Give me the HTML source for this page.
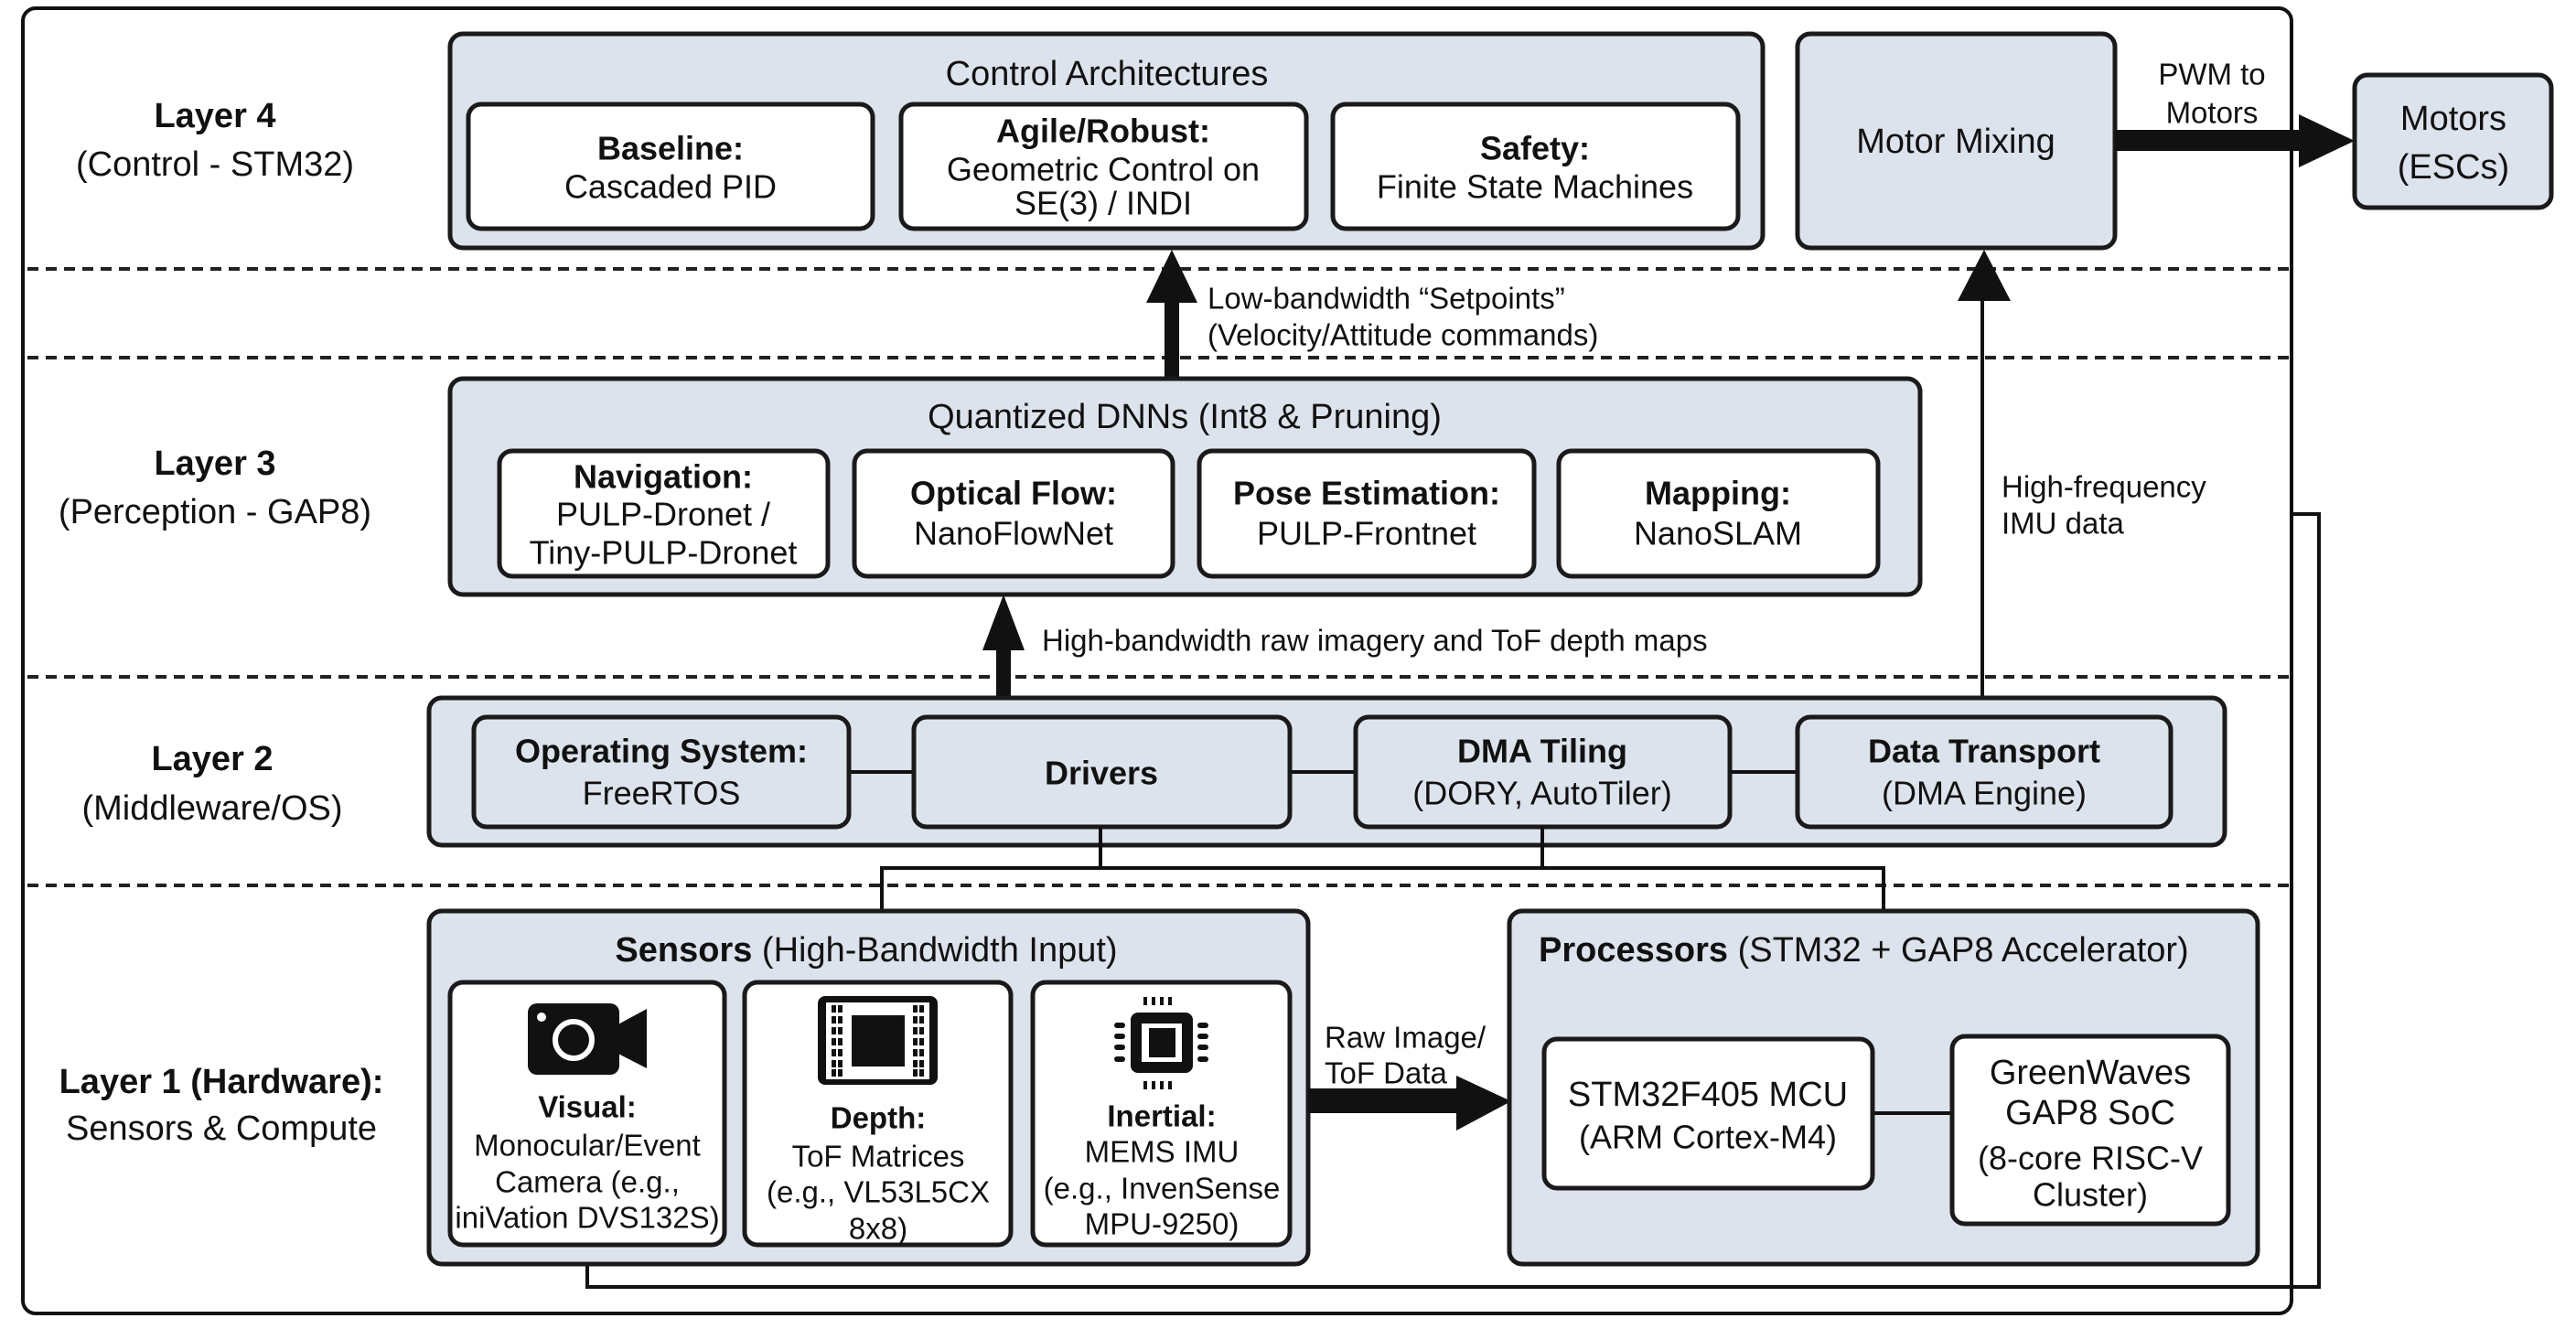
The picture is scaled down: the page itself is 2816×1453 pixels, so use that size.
<!DOCTYPE html>
<html><head><meta charset="utf-8"><style>
html,body{margin:0;padding:0;background:#fff;}
svg{display:block;}
text{font-family:"Liberation Sans",sans-serif;fill:#111;dominant-baseline:central;text-anchor:middle;}
.b{font-weight:bold;}
.t{font-size:36px;}
.s{font-size:33px;}
.L{font-size:38px;}
.box{fill:#dde3ec;stroke:#1a1a1a;stroke-width:5;}
.wb{fill:#fff;stroke:#1a1a1a;stroke-width:5;}
.ln{stroke:#111;stroke-width:4;fill:none;}
.dash{stroke:#222;stroke-width:4;stroke-dasharray:12 8;}
</style></head><body>
<svg width="2816" height="1453" viewBox="0 0 2816 1453" xmlns="http://www.w3.org/2000/svg">
<rect x="0" y="0" width="2816" height="1453" fill="#fff"/>
<!-- outer frame -->
<rect x="25" y="9" width="2480" height="1427" rx="14" fill="none" stroke="#111" stroke-width="4"/>
<!-- dashed separators -->
<line class="dash" x1="30" y1="294" x2="2502" y2="294"/>
<line class="dash" x1="30" y1="391" x2="2502" y2="391"/>
<line class="dash" x1="30" y1="740" x2="2502" y2="740"/>
<line class="dash" x1="30" y1="968" x2="2502" y2="968"/>

<!-- layer labels -->
<text x="235" y="127" class="L b">Layer 4</text>
<text x="235" y="180" class="L">(Control - STM32)</text>
<text x="235" y="507" class="L b">Layer 3</text>
<text x="235" y="560" class="L">(Perception - GAP8)</text>
<text x="232" y="830" class="L b">Layer 2</text>
<text x="232" y="884" class="L">(Middleware/OS)</text>
<text x="242" y="1183" class="L b">Layer 1 (Hardware):</text>
<text x="242" y="1234" class="L">Sensors &amp; Compute</text>

<!-- Layer 4 -->
<rect class="box" x="492" y="37" width="1435" height="234" rx="14"/>
<text x="1210" y="81" class="t" style="font-size:38px">Control Architectures</text>
<rect class="wb" x="512" y="114" width="442" height="136" rx="14"/>
<text x="733" y="162" class="t b">Baseline:</text>
<text x="733" y="204" class="t">Cascaded PID</text>
<rect class="wb" x="985" y="114" width="443" height="136" rx="14"/>
<text x="1206" y="143" class="t b">Agile/Robust:</text>
<text x="1206" y="185" class="t">Geometric Control on</text>
<text x="1206" y="222" class="t">SE(3) / INDI</text>
<rect class="wb" x="1457" y="114" width="443" height="136" rx="14"/>
<text x="1678" y="162" class="t b">Safety:</text>
<text x="1678" y="204" class="t">Finite State Machines</text>

<rect class="box" x="1965" y="37" width="347" height="234" rx="14"/>
<text x="2138" y="155" class="t" style="font-size:38px">Motor Mixing</text>
<rect class="box" x="2574" y="82" width="215" height="145" rx="14"/>
<text x="2682" y="130" class="t" style="font-size:38px">Motors</text>
<text x="2682" y="183" class="t" style="font-size:38px">(ESCs)</text>
<!-- PWM arrow -->
<rect x="2312" y="142" width="205" height="23" fill="#111"/>
<polygon points="2513,125 2574,154 2513,183" fill="#111"/>
<text x="2418" y="81" class="s">PWM to</text>
<text x="2418" y="123" class="s">Motors</text>

<!-- Low-bandwidth arrow -->
<rect x="1273" y="325" width="16" height="90" fill="#111"/>
<polygon points="1253,331 1281,273 1309,331" fill="#111"/>
<text x="1320" y="326" class="s" style="text-anchor:start">Low-bandwidth “Setpoints”</text>
<text x="1320" y="366" class="s" style="text-anchor:start">(Velocity/Attitude commands)</text>

<!-- IMU line to motor mixing -->
<line class="ln" x1="2167" y1="784" x2="2167" y2="325"/>
<polygon points="2140,329 2169,273 2198,329" fill="#111"/>
<text x="2188" y="532" class="s" style="text-anchor:start">High-frequency</text>
<text x="2188" y="572" class="s" style="text-anchor:start">IMU data</text>

<!-- Layer 3 -->
<rect class="box" x="492" y="414" width="1607" height="236" rx="14"/>
<text x="1295" y="456" class="t" style="font-size:38px">Quantized DNNs (Int8 &amp; Pruning)</text>
<rect class="wb" x="546" y="493" width="359" height="137" rx="14"/>
<text x="725" y="521" class="t b">Navigation:</text>
<text x="725" y="562" class="t">PULP-Dronet /</text>
<text x="725" y="604" class="t">Tiny-PULP-Dronet</text>
<rect class="wb" x="934" y="493" width="348" height="137" rx="14"/>
<text x="1108" y="539" class="t b">Optical Flow:</text>
<text x="1108" y="583" class="t">NanoFlowNet</text>
<rect class="wb" x="1311" y="493" width="366" height="137" rx="14"/>
<text x="1494" y="539" class="t b">Pose Estimation:</text>
<text x="1494" y="583" class="t">PULP-Frontnet</text>
<rect class="wb" x="1704" y="493" width="349" height="137" rx="14"/>
<text x="1878" y="539" class="t b">Mapping:</text>
<text x="1878" y="583" class="t">NanoSLAM</text>

<!-- High-bandwidth arrow -->
<rect x="1089" y="705" width="16" height="60" fill="#111"/>
<polygon points="1074,711 1097,650 1120,711" fill="#111"/>
<text x="1139" y="700" class="s" style="text-anchor:start">High-bandwidth raw imagery and ToF depth maps</text>

<!-- Layer 2 -->
<rect class="box" x="469" y="763" width="1963" height="161" rx="14"/>
<line class="ln" x1="928" y1="844" x2="999" y2="844"/>
<line class="ln" x1="1410" y1="844" x2="1482" y2="844"/>
<line class="ln" x1="1891" y1="844" x2="1965" y2="844"/>
<rect class="box" x="518" y="784" width="410" height="120" rx="14"/>
<text x="723" y="821" class="t b">Operating System:</text>
<text x="723" y="867" class="t">FreeRTOS</text>
<rect class="box" x="999" y="784" width="411" height="120" rx="14"/>
<text x="1204" y="845" class="t b">Drivers</text>
<rect class="box" x="1482" y="784" width="409" height="120" rx="14"/>
<text x="1686" y="821" class="t b">DMA Tiling</text>
<text x="1686" y="867" class="t">(DORY, AutoTiler)</text>
<rect class="box" x="1965" y="784" width="408" height="120" rx="14"/>
<text x="2169" y="821" class="t b">Data Transport</text>
<text x="2169" y="867" class="t">(DMA Engine)</text>

<!-- connectors between L2 and L1 -->
<polyline class="ln" points="1203,904 1203,949"/>
<polyline class="ln" points="1686,904 1686,949"/>
<polyline class="ln" points="964,996 964,949 2059,949 2059,996"/>

<!-- bottom feedback line -->
<polyline class="ln" points="642,1361 642,1407 2535,1407 2535,562 2505,562"/>

<!-- Sensors -->
<rect class="box" x="469" y="996" width="961" height="386" rx="14"/>
<text x="947" y="1039" class="t" style="font-size:38px"><tspan font-weight="bold">Sensors</tspan> (High-Bandwidth Input)</text>
<rect class="wb" x="492" y="1074" width="300" height="287" rx="14"/>
<rect class="wb" x="814" y="1074" width="291" height="287" rx="14"/>
<rect class="wb" x="1129" y="1074" width="281" height="287" rx="14"/>
<!-- camera icon -->
<rect x="577" y="1097" width="100" height="78" rx="10" fill="#111"/>
<polygon points="672,1122 707,1103 707,1168 672,1150" fill="#111"/>
<circle cx="627" cy="1137" r="20" fill="none" stroke="#fff" stroke-width="6"/>
<circle cx="592" cy="1112" r="5" fill="#fff"/>
<!-- depth icon -->
<rect x="894" y="1089" width="131" height="97" rx="8" fill="#111"/>
<rect x="903" y="1096" width="113" height="84" fill="#fff"/>
<rect x="931" y="1110" width="58" height="56" fill="#111"/>
<g fill="#111">
<rect x="909" y="1099" width="5" height="8"/><rect x="916" y="1099" width="5" height="8"/>
<rect x="909" y="1111" width="5" height="8"/><rect x="916" y="1111" width="5" height="8"/>
<rect x="909" y="1123" width="5" height="8"/><rect x="916" y="1123" width="5" height="8"/>
<rect x="909" y="1135" width="5" height="8"/><rect x="916" y="1135" width="5" height="8"/>
<rect x="909" y="1147" width="5" height="8"/><rect x="916" y="1147" width="5" height="8"/>
<rect x="909" y="1159" width="5" height="8"/><rect x="916" y="1159" width="5" height="8"/>
<rect x="909" y="1169" width="5" height="8"/><rect x="916" y="1169" width="5" height="8"/>
<rect x="998" y="1099" width="5" height="8"/><rect x="1005" y="1099" width="5" height="8"/>
<rect x="998" y="1111" width="5" height="8"/><rect x="1005" y="1111" width="5" height="8"/>
<rect x="998" y="1123" width="5" height="8"/><rect x="1005" y="1123" width="5" height="8"/>
<rect x="998" y="1135" width="5" height="8"/><rect x="1005" y="1135" width="5" height="8"/>
<rect x="998" y="1147" width="5" height="8"/><rect x="1005" y="1147" width="5" height="8"/>
<rect x="998" y="1159" width="5" height="8"/><rect x="1005" y="1159" width="5" height="8"/>
<rect x="998" y="1169" width="5" height="8"/><rect x="1005" y="1169" width="5" height="8"/>
</g>
<!-- chip icon -->
<rect x="1236" y="1107" width="68" height="66" rx="8" fill="#111"/>
<rect x="1248" y="1119" width="44" height="42" fill="#fff"/>
<rect x="1256" y="1124" width="29" height="32" fill="#111"/>
<g fill="#111">
<rect x="1250" y="1090" width="4" height="9"/><rect x="1259" y="1090" width="4" height="9"/><rect x="1268" y="1090" width="4" height="9"/><rect x="1277" y="1090" width="4" height="9"/>
<rect x="1250" y="1182" width="4" height="9"/><rect x="1259" y="1182" width="4" height="9"/><rect x="1268" y="1182" width="4" height="9"/><rect x="1277" y="1182" width="4" height="9"/>
<rect x="1218" y="1118" width="12" height="6" rx="3"/><rect x="1218" y="1130" width="12" height="6" rx="3"/><rect x="1218" y="1142" width="12" height="6" rx="3"/><rect x="1218" y="1155" width="12" height="6" rx="3"/>
<rect x="1309" y="1118" width="12" height="6" rx="3"/><rect x="1309" y="1130" width="12" height="6" rx="3"/><rect x="1309" y="1142" width="12" height="6" rx="3"/><rect x="1309" y="1155" width="12" height="6" rx="3"/>
</g>
<text x="642" y="1210" class="s b">Visual:</text>
<text x="642" y="1252" class="s">Monocular/Event</text>
<text x="642" y="1292" class="s">Camera (e.g.,</text>
<text x="642" y="1331" class="s">iniVation DVS132S)</text>
<text x="960" y="1222" class="s b">Depth:</text>
<text x="960" y="1264" class="s">ToF Matrices</text>
<text x="960" y="1303" class="s">(e.g., VL53L5CX</text>
<text x="960" y="1343" class="s">8x8)</text>
<text x="1270" y="1220" class="s b">Inertial:</text>
<text x="1270" y="1259" class="s">MEMS IMU</text>
<text x="1270" y="1299" class="s">(e.g., InvenSense</text>
<text x="1270" y="1338" class="s">MPU-9250)</text>

<!-- Raw image arrow -->
<rect x="1430" y="1190" width="165" height="27" fill="#111"/>
<polygon points="1592,1176 1652,1204 1592,1236" fill="#111"/>
<text x="1448" y="1134" class="s" style="text-anchor:start">Raw Image/</text>
<text x="1448" y="1173" class="s" style="text-anchor:start">ToF Data</text>

<!-- Processors -->
<rect class="box" x="1650" y="996" width="818" height="386" rx="14"/>
<text x="1682" y="1039" class="t" style="font-size:38px;text-anchor:start"><tspan font-weight="bold">Processors</tspan> (STM32 + GAP8 Accelerator)</text>
<line class="ln" x1="2047" y1="1217" x2="2134" y2="1217"/>
<rect class="wb" x="1688" y="1136" width="359" height="163" rx="14"/>
<text x="1867" y="1197" class="t" style="font-size:38px">STM32F405 MCU</text>
<text x="1867" y="1243" class="t">(ARM Cortex-M4)</text>
<rect class="wb" x="2134" y="1133" width="302" height="205" rx="14"/>
<text x="2285" y="1173" class="t" style="font-size:38px">GreenWaves</text>
<text x="2285" y="1217" class="t" style="font-size:38px">GAP8 SoC</text>
<text x="2285" y="1266" class="t">(8-core RISC-V</text>
<text x="2285" y="1306" class="t">Cluster)</text>
</svg>
</body></html>
